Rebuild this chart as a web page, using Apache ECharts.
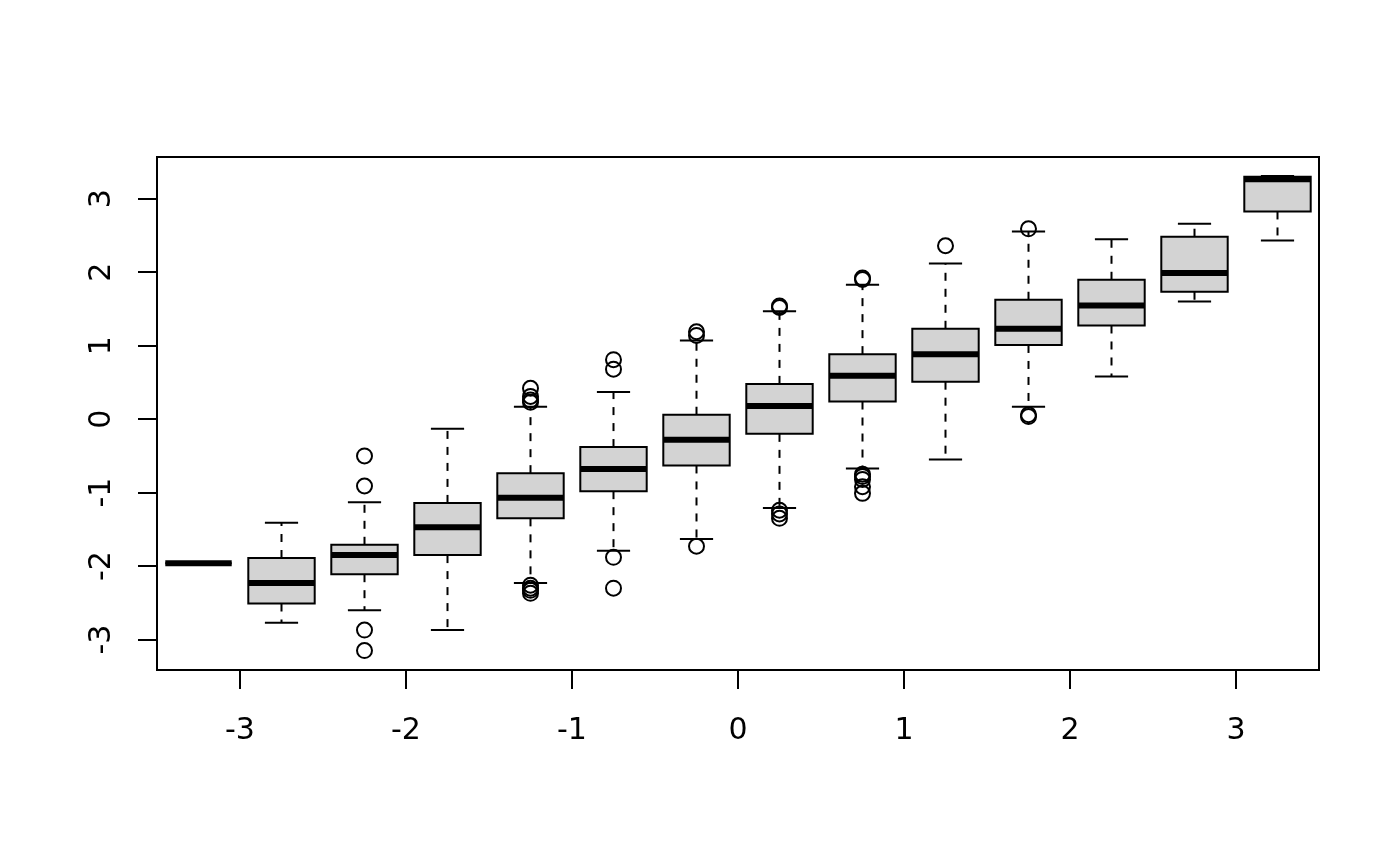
<!DOCTYPE html>
<html>
<head>
<meta charset="utf-8">
<script src="https://cdn.jsdelivr.net/npm/echarts@6/dist/echarts.min.js"></script>
<style>
  html, body { margin: 0; padding: 0; background: #fff; }
  #chart { width: 1400px; height: 866px; }
</style>
</head>
<body>
<div id="chart"></div>
<script>
// box positions on the x axis
const positions = [-3.25, -2.75, -2.25, -1.75, -1.25, -0.75, -0.25, 0.25, 0.75, 1.25, 1.75, 2.25, 2.75, 3.25]
// five number summaries
const whiskerLow = [-1.96, -2.77, -2.60, -2.87, -2.23, -1.79, -1.63, -1.21, -0.67, -0.55, 0.17, 0.58, 1.60, 2.43]
const q1 = [-1.96, -2.51, -2.11, -1.85, -1.35, -0.98, -0.63, -0.20, 0.24, 0.51, 1.01, 1.275, 1.734, 2.827]
const medians = [-1.96, -2.23, -1.85, -1.47, -1.07, -0.68, -0.28, 0.18, 0.59, 0.885, 1.23, 1.547, 1.99, 3.265]
const q3 = [-1.96, -1.89, -1.71, -1.14, -0.735, -0.38, 0.06, 0.48, 0.885, 1.23, 1.625, 1.897, 2.483, 3.30]
const whiskerHigh = [-1.96, -1.41, -1.13, -0.13, 0.17, 0.37, 1.07, 1.47, 1.83, 2.12, 2.555, 2.45, 2.66, 3.31]
// outliers per box
const outliers = [
  [],
  [],
  [-0.50, -0.91, -2.87, -3.15],
  [],
  [0.42, 0.31, 0.26, 0.23, -2.26, -2.30, -2.33, -2.37],
  [0.81, 0.68, -1.88, -2.30],
  [1.19, 1.14, -1.73],
  [1.54, 1.52, -1.24, -1.29, -1.35],
  [1.92, 1.90, -0.75, -0.78, -0.82, -0.92, -1.01],
  [2.36],
  [2.59, 0.06, 0.035],
  [],
  [],
  []
]
const xTicks = [-3, -2, -1, 0, 1, 2, 3]
const yTicks = [-3, -2, -1, 0, 1, 2, 3]

const boxData = positions.map((x, i) => [x, whiskerLow[i], q1[i], medians[i], q3[i], whiskerHigh[i]])
const outlierData = []
positions.forEach((x, i) => outliers[i].forEach(v => outlierData.push([x, v])))

function renderBox(params, api) {
  const x = api.value(0)
  const half = api.size([0.4, 0])[0] / 2
  const cap = half / 2
  const lo = api.coord([x, api.value(1)])
  const b1 = api.coord([x, api.value(2)])
  const md = api.coord([x, api.value(3)])
  const b3 = api.coord([x, api.value(4)])
  const hi = api.coord([x, api.value(5)])
  const cx = lo[0]
  const dashed = { stroke: '#000', lineWidth: 2, lineDash: [8, 8] }
  const solid = { stroke: '#000', lineWidth: 2 }
  return {
    type: 'group',
    children: [
      { type: 'line', shape: { x1: cx, y1: b3[1], x2: cx, y2: hi[1] }, style: dashed },
      { type: 'line', shape: { x1: cx, y1: b1[1], x2: cx, y2: lo[1] }, style: dashed },
      { type: 'line', shape: { x1: cx - cap, y1: hi[1], x2: cx + cap, y2: hi[1] }, style: solid },
      { type: 'line', shape: { x1: cx - cap, y1: lo[1], x2: cx + cap, y2: lo[1] }, style: solid },
      {
        type: 'rect',
        shape: { x: cx - half, y: b3[1], width: half * 2, height: b1[1] - b3[1] },
        style: { fill: '#d3d3d3', stroke: '#000', lineWidth: 2 }
      },
      { type: 'line', shape: { x1: cx - half, y1: md[1], x2: cx + half, y2: md[1] }, style: { stroke: '#000', lineWidth: 6 } }
    ]
  }
}

const myEcharts = echarts.init(document.getElementById('chart'))
const option = {
  backgroundColor: '#fff',
  animation: false,
  textStyle: { fontFamily: 'DejaVu Sans' },
  grid: {
    show: true,
    left: 157,
    right: 81,
    top: 157,
    bottom: 196,
    borderColor: '#000',
    borderWidth: 2,
    containLabel: false
  },
  xAxis: {
    type: 'value',
    min: -3.5,
    max: 3.5,
    axisLine: { show: false, onZero: false },
    splitLine: { show: false },
    axisTick: {
      show: true,
      customValues: xTicks,
      length: 19,
      lineStyle: { color: '#000', width: 2 }
    },
    axisLabel: {
      customValues: xTicks,
      fontSize: 30,
      color: '#000',
      margin: 46,
      fontFamily: 'DejaVu Sans'
    }
  },
  yAxis: {
    type: 'value',
    min: -3.414,
    max: 3.568,
    axisLine: { show: false, onZero: false },
    splitLine: { show: false },
    axisTick: {
      show: true,
      customValues: yTicks,
      length: 19,
      lineStyle: { color: '#000', width: 2 }
    },
    axisLabel: {
      customValues: yTicks,
      rotate: 90,
      fontSize: 30,
      color: '#000',
      margin: 40,
      fontFamily: 'DejaVu Sans'
    }
  },
  series: [
    {
      type: 'custom',
      renderItem: renderBox,
      data: boxData,
      encode: { x: 0, y: [1, 2, 3, 4, 5] },
      clip: true
    },
    {
      type: 'scatter',
      data: outlierData,
      symbol: 'circle',
      symbolSize: 15,
      itemStyle: { color: 'rgba(0,0,0,0)', borderColor: '#000', borderWidth: 2, opacity: 1 },
      z: 3
    }
  ]
}
myEcharts.setOption(option)
</script>
</body>
</html>
